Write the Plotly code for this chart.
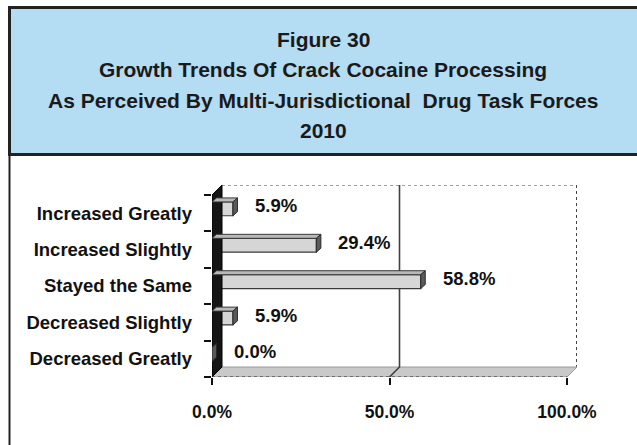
import plotly.graph_objects as go

# ---- data ----
categories = ["Increased Greatly", "Increased Slightly", "Stayed the Same",
              "Decreased Slightly", "Decreased Greatly"]
values = [5.9, 29.4, 58.8, 5.9, 0.0]
x_tickvals = [0, 50, 100]
x_ticktext = ["0.0%", "50.0%", "100.0%"]
title_lines = ["Figure 30", "Growth Trends Of Crack Cocaine Processing",
               "As Perceived By Multi-Jurisdictional  Drug Task Forces", "2010"]

W, H = 637, 445
FONT = "Liberation Sans, Arial, sans-serif"

# plot-area geometry (pixels)
X0_PX, X1_PX = 212, 577      # left front edge .. right back edge
YB_PX, YT_PX = 377, 185      # bottom front edge .. top back edge
PX_PER_X = 355 / 100.0
PX_PER_Y = 36.4
DX = 10 / PX_PER_X           # depth offset in x units
DY = 10 / PX_PER_Y           # depth offset in y units

order_bottom_up = list(reversed(categories))
pos = {c: order_bottom_up.index(c) for c in categories}

BAR_W = 0.38
BAR_SHIFT = 0.12
bdx = 4.5 / PX_PER_X
bdy = 4 / PX_PER_Y

fig = go.Figure()
fig.add_trace(go.Bar(
    y=categories, x=values, orientation="h",
    width=BAR_W, offset=-BAR_W / 2 + BAR_SHIFT,
    marker=dict(color="#d6d6d6", line=dict(color="#3a3a3a", width=1.2)),
    hoverinfo="skip", showlegend=False, cliponaxis=False,
))

shapes = []
# back wall lines
shapes.append(dict(type="line", xref="x", yref="y", x0=DX, x1=100 + DX,
                   y0=4.5 + DY, y1=4.5 + DY, line=dict(color="#a0a0a0", width=2, dash="dot"),
                   layer="below"))
shapes.append(dict(type="line", xref="x", yref="y", x0=100 + DX, x1=100 + DX,
                   y0=4.5 + DY, y1=-0.5 + DY, line=dict(color="#444444", width=2, dash="dot"),
                   layer="below"))
# floor
shapes.append(dict(type="path", xref="x", yref="y",
                   path=f"M 0,-0.5 L 100,-0.5 L {100+DX},{-0.5+DY} L {DX},{-0.5+DY} Z",
                   fillcolor="#c9c9c9", line=dict(color="#9a9a9a", width=1), layer="below"))
# gridline at 50 on back wall + floor
shapes.append(dict(type="path", xref="x", yref="y",
                   path=f"M {50+DX},{4.5+DY} L {50+DX},{-0.5+DY} L 50,-0.5",
                   line=dict(color="#404040", width=1.6), layer="below"))
# front floor edge
shapes.append(dict(type="line", xref="x", yref="y", x0=0, x1=100, y0=-0.5, y1=-0.5,
                   line=dict(color="#555555", width=1.5, dash="dot")))
# left wall
shapes.append(dict(type="path", xref="x", yref="y",
                   path=f"M 0,-0.5 L {DX},{-0.5+DY} L {DX},{4.5+DY} L 0,4.5 Z",
                   fillcolor="#151515", line=dict(color="#000000", width=1)))
# 3D bar top faces and end caps
for c, v in zip(categories, values):
    p = pos[c]
    y0 = p - BAR_W / 2 + BAR_SHIFT
    y1 = y0 + BAR_W
    shapes.append(dict(type="path", xref="x", yref="y",
                       path=f"M 0,{y1} L {v},{y1} L {v+bdx},{y1+bdy} L {bdx},{y1+bdy} Z",
                       fillcolor="#b8b8b8", line=dict(color="#3a3a3a", width=1)))
    shapes.append(dict(type="path", xref="x", yref="y",
                       path=f"M {v},{y0} L {v+bdx},{y0+bdy} L {v+bdx},{y1+bdy} L {v},{y1} Z",
                       fillcolor="#5a5a5a", line=dict(color="#2a2a2a", width=1)))

# title box and frame (paper coords)
shapes.append(dict(type="rect", xref="paper", yref="paper",
                   x0=9.5 / W, x1=1.02, y0=1 - 154.5 / H, y1=1 - 7.5 / H,
                   fillcolor="#b4dcf3", line=dict(color="#222222", width=3), layer="below"))
shapes.append(dict(type="line", xref="paper", yref="paper",
                   x0=9.5 / W, x1=9.5 / W, y0=1 - 154.5 / H, y1=-0.02,
                   line=dict(color="#222222", width=2)))

annotations = []
line_y = [39, 70, 101, 131]
for t, ly in zip(title_lines, line_y):
    annotations.append(dict(text=f"<b>{t}</b>", xref="paper", yref="paper",
                            x=323 / W, y=1 - ly / H, xanchor="center", yanchor="middle",
                            showarrow=False, font=dict(family=FONT, size=21, color="#1a1a1a")))
# data labels
for c, v in zip(categories, values):
    annotations.append(dict(text=f"<b>{v:.1f}%</b>", xref="x", yref="y",
                            x=v, y=pos[c] + BAR_SHIFT, xanchor="left", yanchor="middle",
                            xshift=20, yshift=3, showarrow=False,
                            font=dict(family=FONT, size=18.5, color="#111111")))

fig.update_layout(
    width=W, height=H,
    margin=dict(l=0, r=0, t=0, b=0, pad=0),
    paper_bgcolor="white", plot_bgcolor="rgba(0,0,0,0)",
    shapes=shapes, annotations=annotations,
    xaxis=dict(domain=[X0_PX / W, X1_PX / W], range=[0, 100 + DX], automargin=False,
               tickvals=x_tickvals, ticktext=[f"<b>{t}</b>" for t in x_ticktext],
               ticks="outside", ticklen=7, tickwidth=2, tickcolor="#111111",
               showgrid=False, zeroline=False, showline=False,
               tickfont=dict(family=FONT, size=17.5, color="#111111"),
               ticklabelstandoff=12, fixedrange=True),
    yaxis=dict(domain=[1 - YB_PX / H, 1 - YT_PX / H], range=[-0.5, 4.5 + DY],
               automargin=False,
               type="category", categoryorder="array", categoryarray=order_bottom_up,
               tickson="boundaries", ticks="outside", ticklen=7, tickwidth=2,
               tickcolor="#111111", showgrid=False, zeroline=False, showline=False,
               ticktext=[f"<b>{c}</b>" for c in order_bottom_up], tickvals=order_bottom_up,
               tickfont=dict(family=FONT, size=18.5, color="#111111"),
               ticklabelstandoff=19, fixedrange=True),
)

fig.write_html("out.html", config={"displayModeBar": False},
               post_script="document.body.style.margin='0';document.body.style.overflow='hidden';")
